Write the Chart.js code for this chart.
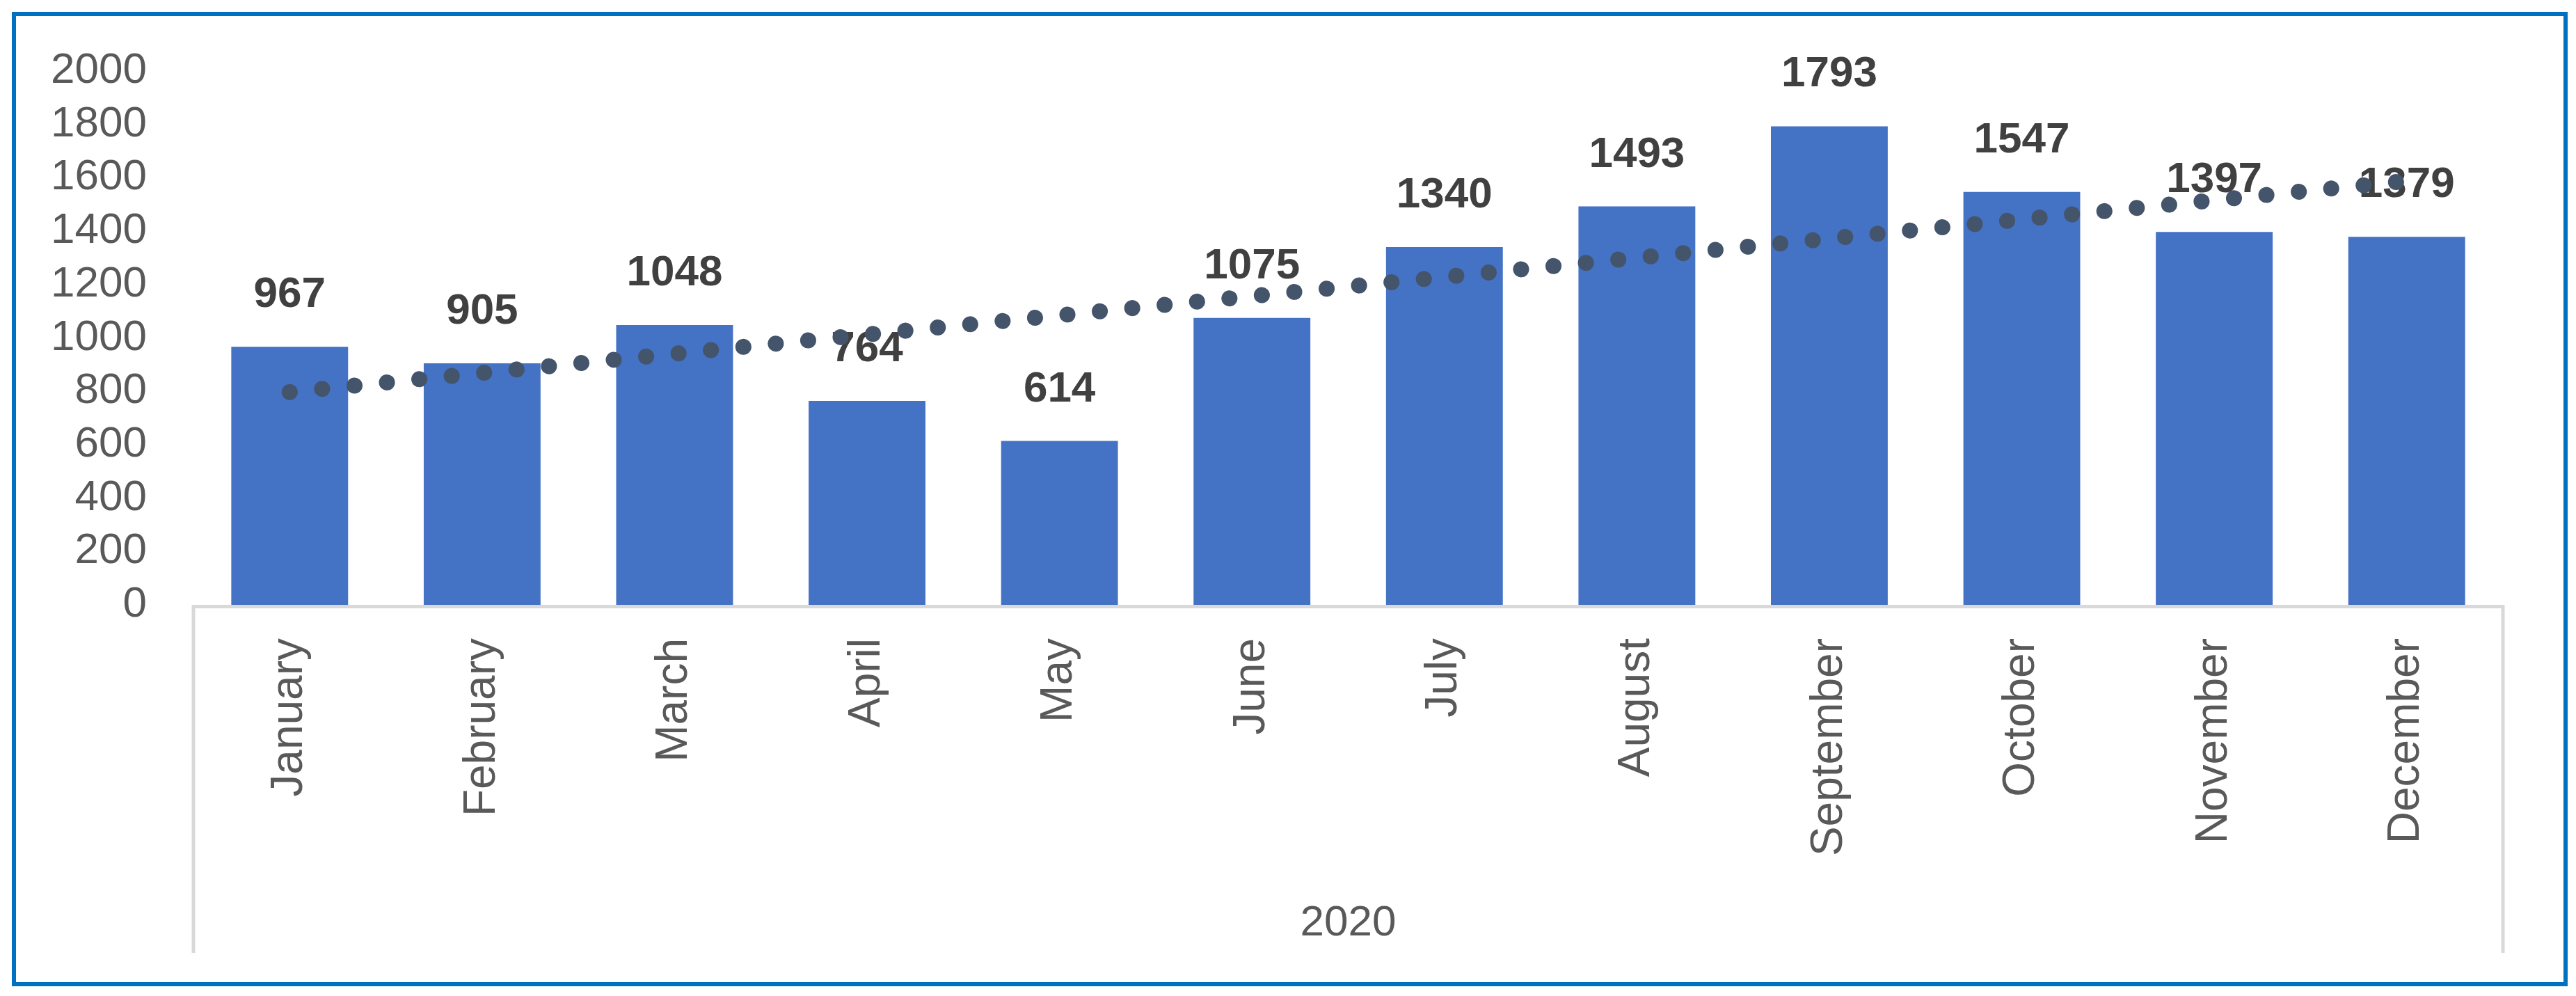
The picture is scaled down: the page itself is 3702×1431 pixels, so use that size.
<!DOCTYPE html>
<html>
<head>
<meta charset="utf-8">
<title>Monthly totals 2020</title>
<script src="https://cdn.jsdelivr.net/npm/chart.js@4.4.1/dist/chart.umd.min.js"></script>
<style>
    html, body {
        margin: 0;
        padding: 0;
        background: #ffffff;
        width: 3702px;
        height: 1431px;
        overflow: hidden;
    }
    #frame {
        position: absolute;
        left: 17px;
        top: 17px;
        width: 3673px;
        height: 1400px;
        box-sizing: border-box;
        border: 6px solid #0070C0;
    }
    #monthChart {
        position: absolute;
        left: 0;
        top: 0;
    }
</style>
</head>
<body>
<div id="frame"></div>
<canvas id="monthChart" width="3702" height="1431"></canvas>
<script>
// ===== DATA =====
const months = ['January', 'February', 'March', 'April', 'May', 'June',
    'July', 'August', 'September', 'October', 'November', 'December'];
const monthValues = [967, 905, 1048, 764, 614, 1075, 1340, 1493, 1793, 1547, 1397, 1379];
// linear trendline, read at its two ends (January, December)
const trendValues = [797, null, null, null, null, null, null, null, null, null, null, 1588];
const yearLabel = '2020';
const yTicks = [0, 200, 400, 600, 800, 1000, 1200, 1400, 1600, 1800, 2000];

const FONT = "'Liberation Sans', Arial, sans-serif";

// ===== PLUGINS =====
// value labels above the bars (drawn before the trendline so the dots sit on top)
const barLabels = {
    id: 'barLabels',
    afterDatasetDraw(chart, args) {
        if (args.index !== 0) return;
        const ctx = chart.ctx;
        ctx.save();
        ctx.font = 'bold 62px ' + FONT;
        ctx.fillStyle = '#404040';
        ctx.textAlign = 'center';
        ctx.textBaseline = 'middle';
        args.meta.data.forEach((bar, i) => {
            ctx.fillText(String(monthValues[i]), bar.x, bar.y - 74);
        });
        ctx.restore();
    }
};

// grey box round the category axis (Excel multi-level axis look)
const axisFrame = {
    id: 'axisFrame',
    beforeDatasetsDraw(chart) {
        const { ctx, chartArea } = chart;
        const bottom = chart.scales.x.bottom;
        ctx.save();
        ctx.strokeStyle = '#D9D9D9';
        ctx.lineWidth = 5;
        ctx.beginPath();
        ctx.moveTo(chartArea.left - 2.5, chartArea.bottom + 2.5);
        ctx.lineTo(chartArea.right + 2.5, chartArea.bottom + 2.5);
        ctx.moveTo(chartArea.left, chartArea.bottom);
        ctx.lineTo(chartArea.left, bottom);
        ctx.moveTo(chartArea.right, chartArea.bottom);
        ctx.lineTo(chartArea.right, bottom);
        ctx.stroke();
        ctx.restore();
    }
};

// ===== CHART =====
const ctx = document.getElementById('monthChart');
const monthChart = new Chart(ctx, {
    type: 'bar',
    data: {
        labels: months,
        datasets: [
            {
                type: 'bar',
                data: monthValues,
                backgroundColor: '#4472C4',
                borderWidth: 0,
                categoryPercentage: 1,
                barPercentage: 0.607,
                order: 1
            },
            {
                type: 'line',
                data: trendValues,
                spanGaps: true,
                borderColor: '#44546A',
                borderWidth: 23,
                borderDash: [0.1, 46.7],
                borderCapStyle: 'round',
                tension: 0,
                pointRadius: 0,
                fill: false,
                order: 0
            }
        ]
    },
    options: {
        responsive: false,
        devicePixelRatio: 1,
        animation: false,
        layout: {
            padding: { top: 102, right: 105, bottom: 62, left: 20 }
        },
        plugins: {
            legend: { display: false },
            tooltip: { enabled: false }
        },
        scales: {
            x: {
                grid: { display: false, drawTicks: false },
                border: { display: false },
                ticks: {
                    color: '#595959',
                    font: { family: FONT, size: 64 },
                    minRotation: 90,
                    maxRotation: 90,
                    padding: 48,
                    autoSkip: false
                },
                title: {
                    display: true,
                    text: yearLabel,
                    color: '#595959',
                    font: { family: FONT, size: 62 },
                    padding: { top: 0, bottom: 5 }
                },
                afterFit: function(scale) {
                    scale.height = 500;
                }
            },
            y: {
                min: 0,
                max: 2000,
                grid: { display: false, drawTicks: false },
                border: { display: false },
                afterBuildTicks: function(scale) {
                    scale.ticks = yTicks.map(v => ({ value: v }));
                },
                ticks: {
                    color: '#595959',
                    font: { family: FONT, size: 62, lineHeight: 1 },
                    padding: 67,
                    autoSkip: false,
                    callback: function(value) {
                        return String(value);
                    }
                },
                afterFit: function(scale) {
                    scale.width = 258;
                }
            }
        }
    },
    plugins: [barLabels, axisFrame]
});
</script>
</body>
</html>
